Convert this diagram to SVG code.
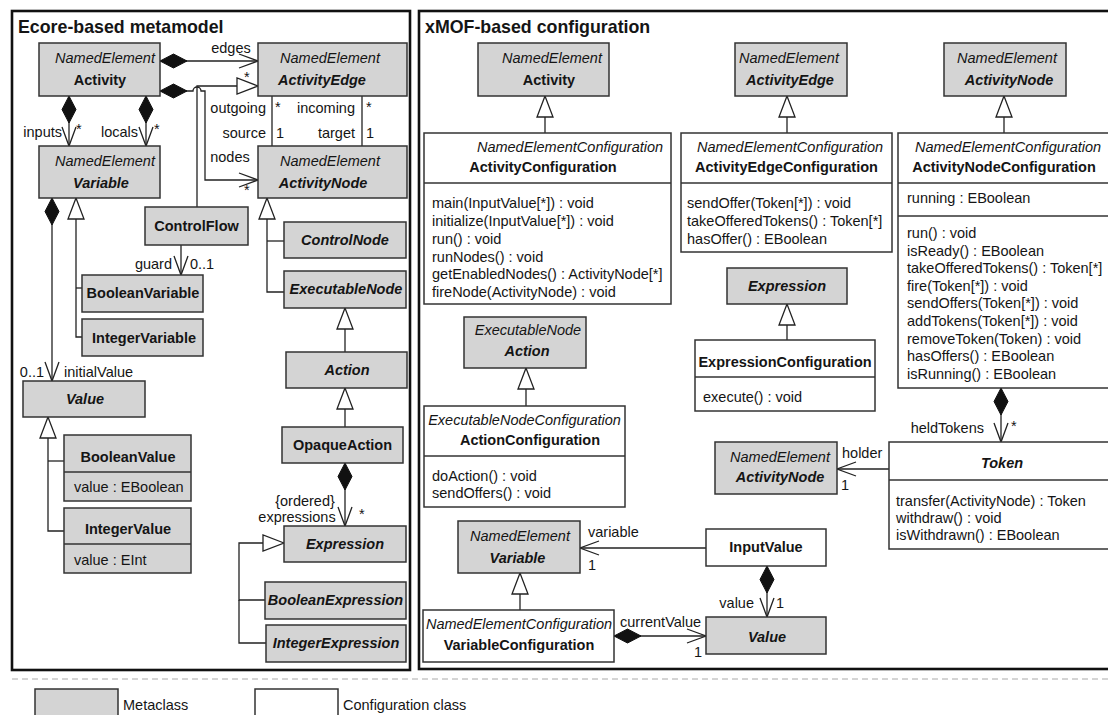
<svg xmlns="http://www.w3.org/2000/svg" width="1108" height="715" viewBox="0 0 1108 715">
<style>
text{font-family:"Liberation Sans",Arial,sans-serif;font-size:14.5px;fill:#151515}
.t{font-size:17.8px;font-weight:bold}
.b{font-weight:bold}
.i{font-style:italic}
.bi{font-weight:bold;font-style:italic}
.m{text-anchor:middle}
.e{text-anchor:end}
.mc{fill:#d4d4d4;stroke:#333;stroke-width:1.5}
.cc{fill:#fff;stroke:#333;stroke-width:1.5}
.dv{stroke:#333;stroke-width:1.3}
.ln{fill:none;stroke:#222;stroke-width:1.3}
.fr{fill:none;stroke:#111;stroke-width:2.6}
</style>
<defs>
<marker id="dia" markerUnits="userSpaceOnUse" orient="auto" refX="0" refY="0" markerWidth="1" markerHeight="1" style="overflow:visible"><path d="M0,0 L13.5,-7 L27,0 L13.5,7 Z" fill="#111" stroke="#111" stroke-width="1"/></marker>
<marker id="arr" markerUnits="userSpaceOnUse" orient="auto" refX="0" refY="0" markerWidth="1" markerHeight="1" style="overflow:visible"><path d="M-19,-7 L0,0 L-19,7" fill="none" stroke="#222" stroke-width="1.3"/></marker>
<marker id="tri" markerUnits="userSpaceOnUse" orient="auto" refX="0" refY="0" markerWidth="1" markerHeight="1" style="overflow:visible"><path d="M0,0 L-21,-8 L-21,8 Z" fill="#fff" stroke="#222" stroke-width="1.3"/></marker>
</defs>
<rect width="1108" height="715" fill="#fff"/>
<g id="frames">
<rect class="fr" x="12" y="11" width="398" height="659"/>
<rect class="fr" x="419" y="11" width="700" height="658"/>
<text class="t" x="18" y="33">Ecore-based metamodel</text>
<text class="t" x="425" y="33">xMOF-based configuration</text>
<line x1="12" y1="679" x2="1108" y2="679" stroke="#aaa" stroke-width="1" stroke-dasharray="6,4"/>
</g>
<g id="legend">
<rect class="mc" x="35" y="689" width="83" height="32"/>
<text x="123" y="710">Metaclass</text>
<rect class="cc" x="255" y="689" width="83" height="32"/>
<text x="343" y="710">Configuration class</text>
</g>
<g id="connectors">
<path class="ln" d="M160,61 H258" marker-start="url(#dia)" marker-end="url(#arr)"/>
<path class="ln" d="M160,91 H193 A4,4 0 0 1 201,91 H205 V180 H258" marker-start="url(#dia)" marker-end="url(#arr)"/>
<path class="ln" d="M197,207 V86 H258" marker-end="url(#tri)"/>
<path class="ln" d="M69,96 V146" marker-start="url(#dia)" marker-end="url(#arr)"/>
<path class="ln" d="M146,96 V146" marker-start="url(#dia)" marker-end="url(#arr)"/>
<path class="ln" d="M272,96 V146"/>
<path class="ln" d="M362,96 V146"/>
<path class="ln" d="M284,292 H267 V198" marker-end="url(#tri)"/>
<path class="ln" d="M284,241 H267"/>
<path class="ln" d="M345,352 V308" marker-end="url(#tri)"/>
<path class="ln" d="M345,427 V388" marker-end="url(#tri)"/>
<path class="ln" d="M345,463 V526" marker-start="url(#dia)" marker-end="url(#arr)"/>
<path class="ln" d="M265,600 H239 V543 H284" marker-end="url(#tri)"/>
<path class="ln" d="M266,643 H239 V600"/>
<path class="ln" d="M52,198 V381" marker-start="url(#dia)" marker-end="url(#arr)"/>
<path class="ln" d="M82,337 H76 V198" marker-end="url(#tri)"/>
<path class="ln" d="M82,288 H76"/>
<path class="ln" d="M181,245 V275" marker-end="url(#arr)"/>
<path class="ln" d="M64,531 H48 V417" marker-end="url(#tri)"/>
<path class="ln" d="M64,461 H48"/>
<path class="ln" d="M545,133 V96" marker-end="url(#tri)"/>
<path class="ln" d="M787,133 V96" marker-end="url(#tri)"/>
<path class="ln" d="M1004,133 V96" marker-end="url(#tri)"/>
<path class="ln" d="M1001,388 V442" marker-start="url(#dia)" marker-end="url(#arr)"/>
<path class="ln" d="M889,469 H837" marker-end="url(#arr)"/>
<path class="ln" d="M787,340 V304" marker-end="url(#tri)"/>
<path class="ln" d="M526,406 V368" marker-end="url(#tri)"/>
<path class="ln" d="M520,610 V573" marker-end="url(#tri)"/>
<path class="ln" d="M706,548 H580" marker-end="url(#arr)"/>
<path class="ln" d="M767,566 V617" marker-start="url(#dia)" marker-end="url(#arr)"/>
<path class="ln" d="M614,636 H706" marker-start="url(#dia)" marker-end="url(#arr)"/>
<text class="m" x="231" y="53">edges</text>
<text x="244" y="82">*</text>
<text class="e" x="62" y="137">inputs</text>
<text x="76" y="134">*</text>
<text class="e" x="138" y="137">locals</text>
<text x="154" y="134">*</text>
<text class="e" x="266" y="113">outgoing</text>
<text x="275" y="112">*</text>
<text class="e" x="266" y="138">source</text>
<text x="276" y="138">1</text>
<text class="e" x="355" y="113">incoming</text>
<text x="366" y="112">*</text>
<text class="e" x="355" y="138">target</text>
<text x="366" y="138">1</text>
<text class="m" x="230" y="162">nodes</text>
<text x="244" y="195">*</text>
<text class="e" x="172" y="269">guard</text>
<text x="190" y="269">0..1</text>
<text class="e" x="44" y="377">0..1</text>
<text x="64" y="377">initialValue</text>
<text class="m" x="305" y="506">{ordered}</text>
<text class="m" x="297" y="522">expressions</text>
<text x="359" y="519">*</text>
<text class="e" x="984" y="433">heldTokens</text>
<text x="1011" y="431">*</text>
<text x="842" y="458">holder</text>
<text x="841" y="490">1</text>
<text x="588" y="537">variable</text>
<text x="588" y="570">1</text>
<text class="e" x="754" y="608">value</text>
<text x="776" y="608">1</text>
<text x="620" y="627">currentValue</text>
<text x="694" y="657">1</text>
</g>
<g id="Activity_meta">
<rect class="mc" x="39" y="43" width="121" height="53"/>
<text class="i m" x="105" y="63">NamedElement</text>
<text class="b m" x="100" y="85">Activity</text>
</g>
<g id="ActivityEdge_meta">
<rect class="mc" x="258" y="43" width="149" height="53"/>
<text class="i m" x="330" y="63">NamedElement</text>
<text class="bi m" x="322" y="85">ActivityEdge</text>
</g>
<g id="ActivityNode_meta">
<rect class="mc" x="258" y="146" width="149" height="52"/>
<text class="i m" x="330" y="166">NamedElement</text>
<text class="bi m" x="323" y="188">ActivityNode</text>
</g>
<g id="Variable_meta">
<rect class="mc" x="39" y="146" width="121" height="52"/>
<text class="i m" x="105" y="166">NamedElement</text>
<text class="bi m" x="101" y="188">Variable</text>
</g>
<g id="ControlFlow">
<rect class="mc" x="145" y="207" width="103" height="38"/>
<text class="b m" x="196.5" y="231">ControlFlow</text>
</g>
<g id="ControlNode">
<rect class="mc" x="284" y="222" width="122" height="36"/>
<text class="bi m" x="345" y="245">ControlNode</text>
</g>
<g id="ExecutableNode">
<rect class="mc" x="284" y="271" width="122" height="37"/>
<text class="bi m" x="346" y="294">ExecutableNode</text>
</g>
<g id="Action_meta">
<rect class="mc" x="286" y="352" width="121" height="36"/>
<text class="bi m" x="347" y="375">Action</text>
</g>
<g id="OpaqueAction">
<rect class="mc" x="282" y="427" width="121" height="36"/>
<text class="b m" x="342.5" y="450">OpaqueAction</text>
</g>
<g id="Expression_meta">
<rect class="mc" x="284" y="526" width="122" height="36"/>
<text class="bi m" x="345" y="549">Expression</text>
</g>
<g id="BooleanExpression">
<rect class="mc" x="265" y="582" width="141" height="37"/>
<text class="bi m" x="335.5" y="605">BooleanExpression</text>
</g>
<g id="IntegerExpression">
<rect class="mc" x="266" y="625" width="140" height="37"/>
<text class="bi m" x="336" y="648">IntegerExpression</text>
</g>
<g id="BooleanVariable">
<rect class="mc" x="82" y="275" width="121" height="37"/>
<text class="b m" x="143" y="298">BooleanVariable</text>
</g>
<g id="IntegerVariable">
<rect class="mc" x="82" y="319" width="121" height="37"/>
<text class="b m" x="144" y="343">IntegerVariable</text>
</g>
<g id="Value_meta">
<rect class="mc" x="23" y="381" width="122" height="36"/>
<text class="bi m" x="85" y="404">Value</text>
</g>
<g id="BooleanValue">
<rect class="mc" x="64" y="435" width="127" height="66"/>
<line class="dv" x1="64" y1="472" x2="191" y2="472"/>
<text class="b m" x="128" y="462">BooleanValue</text>
<text x="74" y="492">value : EBoolean</text>
</g>
<g id="IntegerValue">
<rect class="mc" x="64" y="508" width="127" height="65"/>
<line class="dv" x1="64" y1="544" x2="191" y2="544"/>
<text class="b m" x="128" y="534">IntegerValue</text>
<text x="74" y="565">value : EInt</text>
</g>
<g id="Activity_conf_meta">
<rect class="mc" x="478" y="43" width="131" height="53"/>
<text class="i m" x="552" y="63">NamedElement</text>
<text class="b m" x="549" y="85">Activity</text>
</g>
<g id="ActivityConfiguration">
<rect class="cc" x="424" y="133" width="247" height="171"/>
<line class="dv" x1="424" y1="183" x2="671" y2="183"/>
<text class="i m" x="570" y="152">NamedElementConfiguration</text>
<text class="b m" x="543" y="172">ActivityConfiguration</text>
<text x="432" y="208">main(InputValue[*]) : void</text>
<text x="432" y="226">initialize(InputValue[*]) : void</text>
<text x="432" y="244">run() : void</text>
<text x="432" y="262">runNodes() : void</text>
<text x="432" y="279">getEnabledNodes() : ActivityNode[*]</text>
<text x="432" y="297">fireNode(ActivityNode) : void</text>
</g>
<g id="ActivityEdge_conf_meta">
<rect class="mc" x="735" y="43" width="112" height="53"/>
<text class="i m" x="789" y="63">NamedElement</text>
<text class="bi m" x="790" y="85">ActivityEdge</text>
</g>
<g id="ActivityEdgeConfiguration">
<rect class="cc" x="681" y="133" width="211" height="119"/>
<line class="dv" x1="681" y1="183" x2="892" y2="183"/>
<text class="i m" x="790" y="152">NamedElementConfiguration</text>
<text class="b m" x="786.5" y="172">ActivityEdgeConfiguration</text>
<text x="687" y="208">sendOffer(Token[*]) : void</text>
<text x="687" y="226">takeOfferedTokens() : Token[*]</text>
<text x="687" y="244">hasOffer() : EBoolean</text>
</g>
<g id="ActivityNode_conf_meta">
<rect class="mc" x="944" y="43" width="122" height="53"/>
<text class="i m" x="1007" y="63">NamedElement</text>
<text class="bi m" x="1009" y="85">ActivityNode</text>
</g>
<g id="ActivityNodeConfiguration">
<rect class="cc" x="898" y="133" width="220" height="255"/>
<line class="dv" x1="898" y1="183" x2="1118" y2="183"/>
<line class="dv" x1="898" y1="216" x2="1118" y2="216"/>
<text class="i m" x="1008" y="152">NamedElementConfiguration</text>
<text class="b m" x="1004" y="172">ActivityNodeConfiguration</text>
<text x="907" y="203">running : EBoolean</text>
<text x="907" y="238">run() : void</text>
<text x="907" y="256">isReady() : EBoolean</text>
<text x="907" y="273">takeOfferedTokens() : Token[*]</text>
<text x="907" y="291">fire(Token[*]) : void</text>
<text x="907" y="308">sendOffers(Token[*]) : void</text>
<text x="907" y="326">addTokens(Token[*]) : void</text>
<text x="907" y="344">removeToken(Token) : void</text>
<text x="907" y="361">hasOffers() : EBoolean</text>
<text x="907" y="379">isRunning() : EBoolean</text>
</g>
<g id="Token">
<rect class="cc" x="889" y="442" width="230" height="107"/>
<line class="dv" x1="889" y1="480" x2="1119" y2="480"/>
<text class="bi m" x="1002" y="468">Token</text>
<text x="896" y="506">transfer(ActivityNode) : Token</text>
<text x="896" y="523">withdraw() : void</text>
<text x="896" y="540">isWithdrawn() : EBoolean</text>
</g>
<g id="ActivityNode_holder_meta">
<rect class="mc" x="715" y="442" width="122" height="52"/>
<text class="i m" x="780" y="462">NamedElement</text>
<text class="bi m" x="780" y="482">ActivityNode</text>
</g>
<g id="Expression_conf_meta">
<rect class="mc" x="727" y="268" width="120" height="36"/>
<text class="bi m" x="787" y="291">Expression</text>
</g>
<g id="ExpressionConfiguration">
<rect class="cc" x="695" y="340" width="180" height="71"/>
<line class="dv" x1="695" y1="377" x2="875" y2="377"/>
<text class="b m" x="785" y="367">ExpressionConfiguration</text>
<text x="703" y="402">execute() : void</text>
</g>
<g id="Action_conf_meta">
<rect class="mc" x="464" y="317" width="122" height="51"/>
<text class="i m" x="528" y="335">ExecutableNode</text>
<text class="bi m" x="527" y="356">Action</text>
</g>
<g id="ActionConfiguration">
<rect class="cc" x="424" y="406" width="201" height="101"/>
<line class="dv" x1="424" y1="456" x2="625" y2="456"/>
<text class="i m" x="524.5" y="425">ExecutableNodeConfiguration</text>
<text class="b m" x="530" y="445">ActionConfiguration</text>
<text x="432" y="481">doAction() : void</text>
<text x="432" y="498">sendOffers() : void</text>
</g>
<g id="Variable_conf_meta">
<rect class="mc" x="458" y="521" width="122" height="52"/>
<text class="i m" x="520" y="541">NamedElement</text>
<text class="bi m" x="517.5" y="563">Variable</text>
</g>
<g id="VariableConfiguration">
<rect class="cc" x="423" y="610" width="191" height="52"/>
<text class="i m" x="519" y="629">NamedElementConfiguration</text>
<text class="b m" x="519" y="650">VariableConfiguration</text>
</g>
<g id="InputValue">
<rect class="cc" x="706" y="529" width="120" height="37"/>
<text class="b m" x="766" y="552">InputValue</text>
</g>
<g id="Value_conf_meta">
<rect class="mc" x="706" y="617" width="120" height="37"/>
<text class="bi m" x="767" y="642">Value</text>
</g>
</svg>
